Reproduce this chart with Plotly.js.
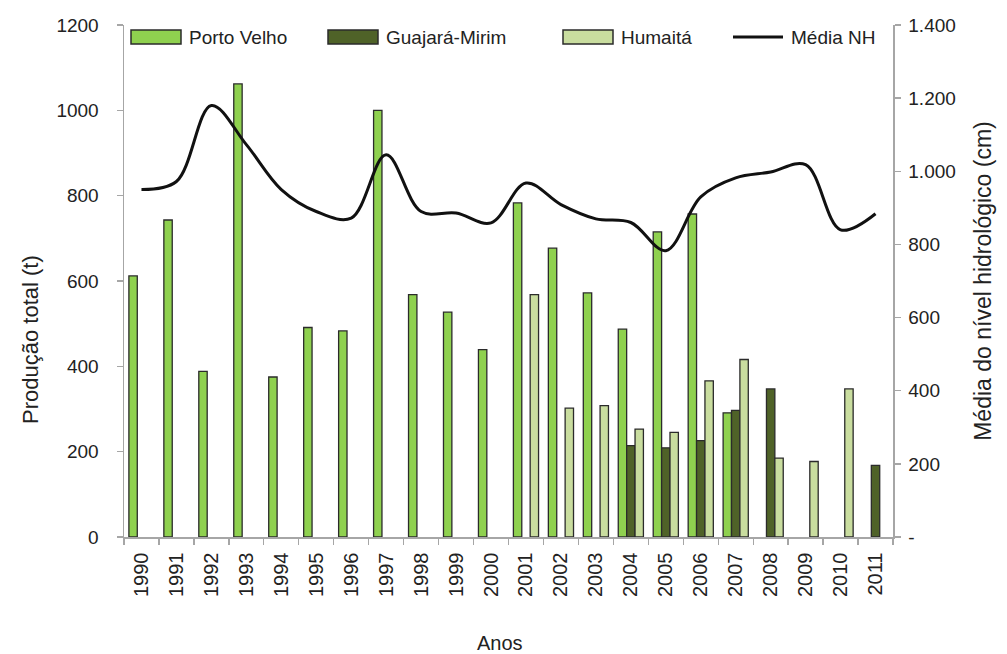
<!DOCTYPE html>
<html>
<head>
<meta charset="utf-8">
<script src="https://cdn.plot.ly/plotly-3.0.1.min.js"></script>
<style>html,body{margin:0;padding:0;background:#fff;}#chart{width:1007px;height:654px;}</style>
</head>
<body>
<div id="chart"></div>
<script>
const years = ['1990','1991','1992','1993','1994','1995','1996','1997','1998','1999','2000','2001','2002','2003','2004','2005','2006','2007','2008','2009','2010','2011'];
const portoVelho = [612, 743, 388, 1062, 375, 491, 483, 1000, 568, 527, 439, 783, 677, 572, 487, 715, 757, 291, null, null, null, null];
const guajaraMirim = [null, null, null, null, null, null, null, null, null, null, null, null, null, null, 214, 209, 226, 297, 347, null, null, 168];
const humaita = [null, null, null, null, null, null, null, null, null, null, null, 568, 302, 308, 253, 245, 366, 416, 185, 177, 347, null];
const mediaNH = [950, 972, 1180, 1073, 950, 890, 872, 1045, 890, 886, 859, 968, 909, 870, 860, 783, 930, 982, 998, 1018, 840, 884];
const rightTickVals = [0, 200, 400, 600, 800, 1000, 1200, 1400];
const rightTickText = ['-', '200', '400', '600', '800', '1.000', '1.200', '1.400'];
const seriesNames = ['Porto Velho', 'Guajará-Mirim', 'Humaitá', 'Média NH'];
const seriesColors = ['#8fd14f', '#4f6228', '#c9dd9f', '#111111'];
const leftTitle = 'Produção total (t)';
const rightTitle = 'Média do nível hidrológico (cm)';
const xTitle = 'Anos';

const W = 1007, H = 654;
const M = {l: 124, r: 114, t: 25, b: 117};
const PW = W - M.l - M.r, PH = H - M.t - M.b;
const px = x => (x - M.l) / PW;
const py = y => (H - M.b - y) / PH;

const border = {color: '#2b2b2b', width: 1.3};
const font = 'Liberation Sans, Arial, sans-serif';
const txt = '#222';

const traces = [
  {type: 'bar', name: seriesNames[0], x: years, y: portoVelho, marker: {color: seriesColors[0], line: border}},
  {type: 'bar', name: seriesNames[1], x: years, y: guajaraMirim, marker: {color: seriesColors[1], line: border}},
  {type: 'bar', name: seriesNames[2], x: years, y: humaita, marker: {color: seriesColors[2], line: border}},
  {type: 'scatter', mode: 'lines', name: seriesNames[3], x: years, y: mediaNH, yaxis: 'y2',
   line: {color: seriesColors[3], width: 3, shape: 'spline', smoothing: 1}}
];

// Custom legend (wide boxes like the original chart)
const legendBoxX = [131, 328, 563, 733];
const legendTextX = [187, 384, 619, 789];
const legendY = 37;
const shapes = [];
const annotations = [];
for (let i = 0; i < 4; i++) {
  if (i < 3) {
    shapes.push({type: 'rect', xref: 'paper', yref: 'paper',
      x0: px(legendBoxX[i]), x1: px(legendBoxX[i] + 50), y0: py(legendY - 7), y1: py(legendY + 7),
      fillcolor: seriesColors[i], line: {color: '#2b2b2b', width: 1.5}});
  } else {
    shapes.push({type: 'line', xref: 'paper', yref: 'paper',
      x0: px(legendBoxX[i]), x1: px(legendBoxX[i] + 50), y0: py(legendY), y1: py(legendY),
      line: {color: seriesColors[i], width: 3}});
  }
  annotations.push({xref: 'paper', yref: 'paper', x: px(legendTextX[i]), y: py(legendY),
    xanchor: 'left', yanchor: 'middle', showarrow: false, text: seriesNames[i],
    font: {family: font, size: 19, color: txt}});
}
// Left axis title (sits lower than the plot centre in the original)
annotations.push({xref: 'paper', yref: 'paper', x: px(30), y: py(340), xanchor: 'center', yanchor: 'middle',
  textangle: -90, showarrow: false, text: leftTitle, font: {family: font, size: 22, color: txt}});
// X axis title
annotations.push({xref: 'paper', yref: 'paper', x: px(500), y: py(643), xanchor: 'center', yanchor: 'middle',
  showarrow: false, text: xTitle, font: {family: font, size: 20, color: txt}});

const axisCommon = {
  showline: true, linecolor: '#a6a6a6', linewidth: 1.5,
  ticks: 'outside', tickcolor: '#a6a6a6', ticklen: 6, tickwidth: 1.3,
  showgrid: false, zeroline: false,
  tickfont: {family: font, size: 19, color: txt}
};

const layout = {
  width: W, height: H,
  margin: M,
  paper_bgcolor: '#fff', plot_bgcolor: '#fff',
  barmode: 'group', bargap: 0.28, bargroupgap: 0,
  font: {family: font, color: txt},
  showlegend: false,
  shapes: shapes,
  annotations: annotations,
  xaxis: Object.assign({}, axisCommon, {
    type: 'category', tickangle: -90, tickson: 'boundaries', ticklabelstandoff: 6,
    tickfont: {family: font, size: 20, color: txt}
  }),
  yaxis: Object.assign({}, axisCommon, {
    range: [0, 1200], dtick: 200, tick0: 0, ticklabelstandoff: 14
  }),
  yaxis2: Object.assign({}, axisCommon, {
    overlaying: 'y', side: 'right', range: [0, 1400],
    tickvals: rightTickVals, ticktext: rightTickText, ticklabelstandoff: 4,
    title: {text: rightTitle, font: {family: font, size: 23, color: txt}, standoff: 20}
  })
};

Plotly.newPlot('chart', traces, layout, {displayModeBar: false, staticPlot: true});
</script>
</body>
</html>
